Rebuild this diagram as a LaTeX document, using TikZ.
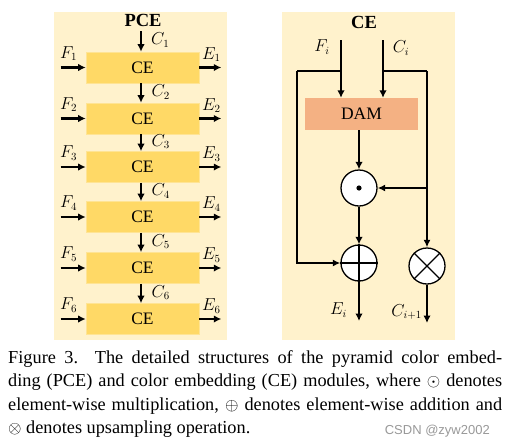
\documentclass[tikz,border=0pt]{standalone}
\usepackage{fontspec}
\setmainfont{Liberation Serif}
\newfontfamily\wmfont{Liberation Sans}
\usetikzlibrary{arrows.meta,calc}
\definecolor{panelbg}{HTML}{FFF2CC}
\definecolor{cefill}{HTML}{FFD966}
\definecolor{damfill}{HTML}{F4B183}
\begin{document}
\begin{tikzpicture}[x=1pt,y=-1pt,
  arr/.style={line width=2.4pt,-{Latex[length=7.5pt,width=7.5pt]}},
  thinarr/.style={line width=1.7pt,-{Latex[length=7.5pt,width=7pt]}},
  thinline/.style={line width=1.7pt},
  cebox/.style={fill=cefill,draw=cefill!70!white,line width=0.6pt,minimum width=113pt,minimum height=31pt,inner sep=0pt,font=\fontsize{17.5}{17.5}\selectfont},
  dambox/.style={fill=damfill,minimum width=113pt,minimum height=32pt,inner sep=0pt,font=\fontsize{17.5}{17.5}\selectfont},
  opcirc/.style={circle,draw=black,fill=white,line width=1.3pt,minimum size=36pt,inner sep=0pt},
  lab/.style={font=\fontsize{16}{16}\selectfont,inner sep=0pt},
  ttl/.style={font=\fontsize{18.5}{18.5}\selectfont\bfseries,inner sep=0pt}
]
\useasboundingbox (0,0) rectangle (506,445);
\fill[white] (0,0) rectangle (506,445);
% panels
\fill[panelbg] (54,12) rectangle (227,340);
\fill[panelbg] (282,12) rectangle (455,340);
% ---------------- PCE ----------------
\node[ttl] (pcet) at (143,20) {PCE};
\node[cebox] (ce1) at (142.5,67.5) {CE};
\node[cebox] (ce2) at (142.5,118.5) {CE};
\node[cebox] (ce3) at (142.5,167) {CE};
\node[cebox] (ce4) at (142.5,217) {CE};
\node[cebox] (ce5) at (142.5,268) {CE};
\node[cebox] (ce6) at (142.5,319) {CE};
\coordinate (ctop) at (141,31);
\draw[arr] (ctop) -- (ctop |- ce1.north);
\node[lab,anchor=west] (lc1) at (151,40) {$C_1$};
\foreach \a/\b/\k in {ce1/ce2/2,ce2/ce3/3,ce3/ce4/4,ce4/ce5/5,ce5/ce6/6}{
  \draw[arr] ([xshift=-1.5pt]\a.south) -- ([xshift=-1.5pt]\b.north);
  \node[lab,anchor=west] (lc\k) at ([xshift=9pt,yshift=1pt]$(\a.south)!0.5!(\b.north)$) {$C_{\k}$};
}
\foreach \k in {1,...,6}{
  \path (ce\k.west) ++(-25pt,0) coordinate (fin\k);
  \draw[arr] (fin\k) -- (ce\k.west);
  \node[lab] (lf\k) at ([xshift=8pt,yshift=14pt]fin\k) {$F_{\k}$};
  \path (ce\k.east) ++(22pt,0) coordinate (eout\k);
  \draw[arr] (ce\k.east) -- (eout\k);
  \node[lab] (le\k) at ([xshift=-10pt,yshift=13pt]eout\k) {$E_{\k}$};
}
% ---------------- CE ----------------
\node[ttl] (cet) at (364,22) {CE};
\node[dambox] (dam) at (361.5,114) {DAM};
\coordinate (fi) at (341,40);
\coordinate (ci) at (383,40);
\node[lab] (lfi) at (322,47) {$F_i$};
\node[lab] (lci) at (401,48) {$C_i$};
\draw[arr] (fi) -- (fi |- dam.north);
\draw[arr] (ci) -- (ci |- dam.north);
\node[opcirc] (mul) at (359,188) {};
\fill (mul.center) circle (2.6pt);
\node[opcirc] (add) at (359,263) {};
\draw[line width=1.3pt] (add.north) -- (add.south) (add.west) -- (add.east);
\node[opcirc] (up) at (427,266) {};
\draw[line width=1.3pt] (up.north west) -- (up.south east) (up.north east) -- (up.south west);
\coordinate (bl1) at (341,71);
\coordinate (bl2) at (297,71);
\coordinate (br1) at (383,71);
\coordinate (br2) at (427,71);
\draw[thinline] (bl1) -- (bl2);
\draw[thinarr] (bl2) |- (add.west);
\draw[thinline] (br1) -- (br2);
\draw[thinarr] (br2) -- (up.north);
\draw[thinarr] (br2 |- mul.east) -- (mul.east);
\draw[arr] (dam.south -| mul.north) -- (mul.north);
\draw[arr] (mul.south) -- (add.north);
\coordinate (eiout) at (359,321);
\coordinate (ciout) at (427,323);
\draw[arr] (add.south) -- (eiout);
\draw[arr] (up.south) -- (ciout);
\node[lab,anchor=east] (lei) at (347,310) {$E_i$};
\node[lab,anchor=east] (lcn) at (422,312) {$C_{i+1}$};
% ---------------- caption ----------------
\node[anchor=north west,text width=494pt,align=justify,inner sep=0pt,
  font=\fontsize{18.3}{23.6}\selectfont] (cap) at (8,350) {%
\hyphenpenalty=10000\relax
Figure 3.\ \ The detailed structures of the pyramid color embed-\linebreak
ding (PCE) and color embedding (CE) modules, where $\odot$ denotes\linebreak
element-wise multiplication, $\oplus$ denotes element-wise addition and\linebreak
$\otimes$ denotes upsampling operation.\hfill\null};
\node[anchor=base east,inner sep=0pt,text=gray!80,font=\wmfont\fontsize{13}{13}\selectfont] (wm) at (490,434) {CSDN @zyw2002};
\end{tikzpicture}
\end{document}
